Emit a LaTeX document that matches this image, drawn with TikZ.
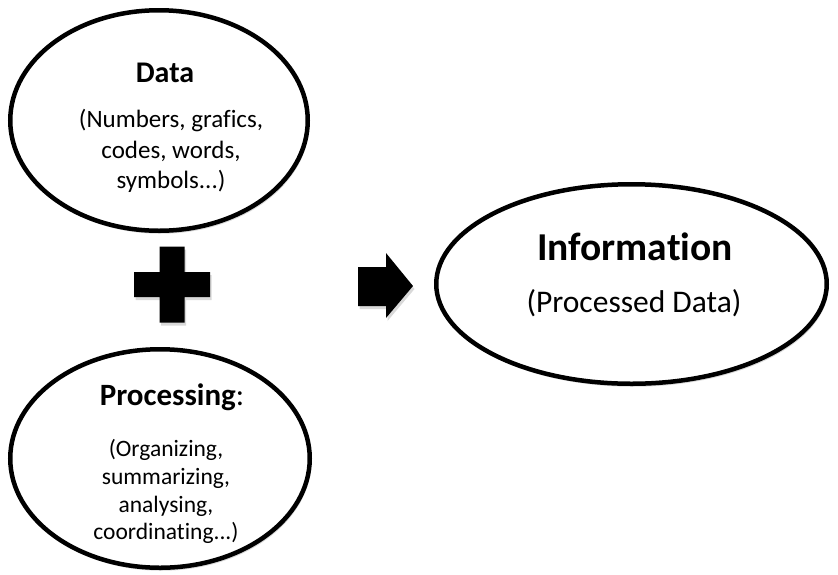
\documentclass[tikz,border=0pt]{standalone}
\usepackage{fontspec}
\setmainfont{Carlito}[Ligatures=NoCommon]
\usetikzlibrary{shapes.geometric,shadows}

\begin{document}
\begin{tikzpicture}[
    x=1pt, y=-1pt,
    soft/.style={drop shadow={shadow xshift=1.5pt, shadow yshift=-3pt, opacity=0.3}},
    bubble/.style={ellipse, draw, line width=4.5pt, fill=white, inner sep=0pt, soft},
    block/.style={fill=black, soft},
    txt/.style={anchor=base, inner sep=0pt},
]
\useasboundingbox (0,0) rectangle (838,574);

% Ellipses
\node[bubble, minimum width=297.5pt, minimum height=220.5pt] (data) at (159,120.5) {};
\node[bubble, minimum width=299.5pt, minimum height=218.5pt] (proc) at (160,458.5) {};
\node[bubble, minimum width=390.5pt, minimum height=199.5pt] (info) at (631.5,284) {};

% Data text
\node[txt, font=\bfseries\fontsize{30}{36}\selectfont] (dataH) at (165,82) {Data};
\foreach \y/\t [count=\i] in {127/{(Numbers, grafics,}, 158/{codes, words,}, 188/{symbols...)}}
    \node[txt, font=\fontsize{25}{30}\selectfont] (dataL\i) at (171,\y) {\t};

% Processing text
\node[txt, font=\fontsize{31}{37}\selectfont] (procH) at (172,405) {\textbf{Processing}:};
\foreach \y/\t [count=\i] in {456/{(Organizing,}, 484/{summarizing,}, 512/{analysing,}, 539/{coordinating...)}}
    \node[txt, font=\fontsize{23.5}{28}\selectfont] (procL\i) at (166,\y) {\t};

% Information text
\node[txt, font=\bfseries\fontsize{39.5}{47}\selectfont] (infoH) at (635,260) {Information};
\node[txt, font=\fontsize{31.5}{38}\selectfont] (infoL) at (634,312) {(Processed Data)};

% Plus sign
\fill[block] (159.5,246.5) -- (184.5,246.5) -- (184.5,272) -- (210,272) -- (210,297)
    -- (184.5,297) -- (184.5,322.5) -- (159.5,322.5) -- (159.5,297) -- (134,297)
    -- (134,272) -- (159.5,272) -- cycle;

% Block arrow
\fill[block] (358,267) -- (386,267) -- (386,253) -- (413,286) -- (386,318)
    -- (386,306) -- (358,306) -- cycle;
\end{tikzpicture}
\end{document}
